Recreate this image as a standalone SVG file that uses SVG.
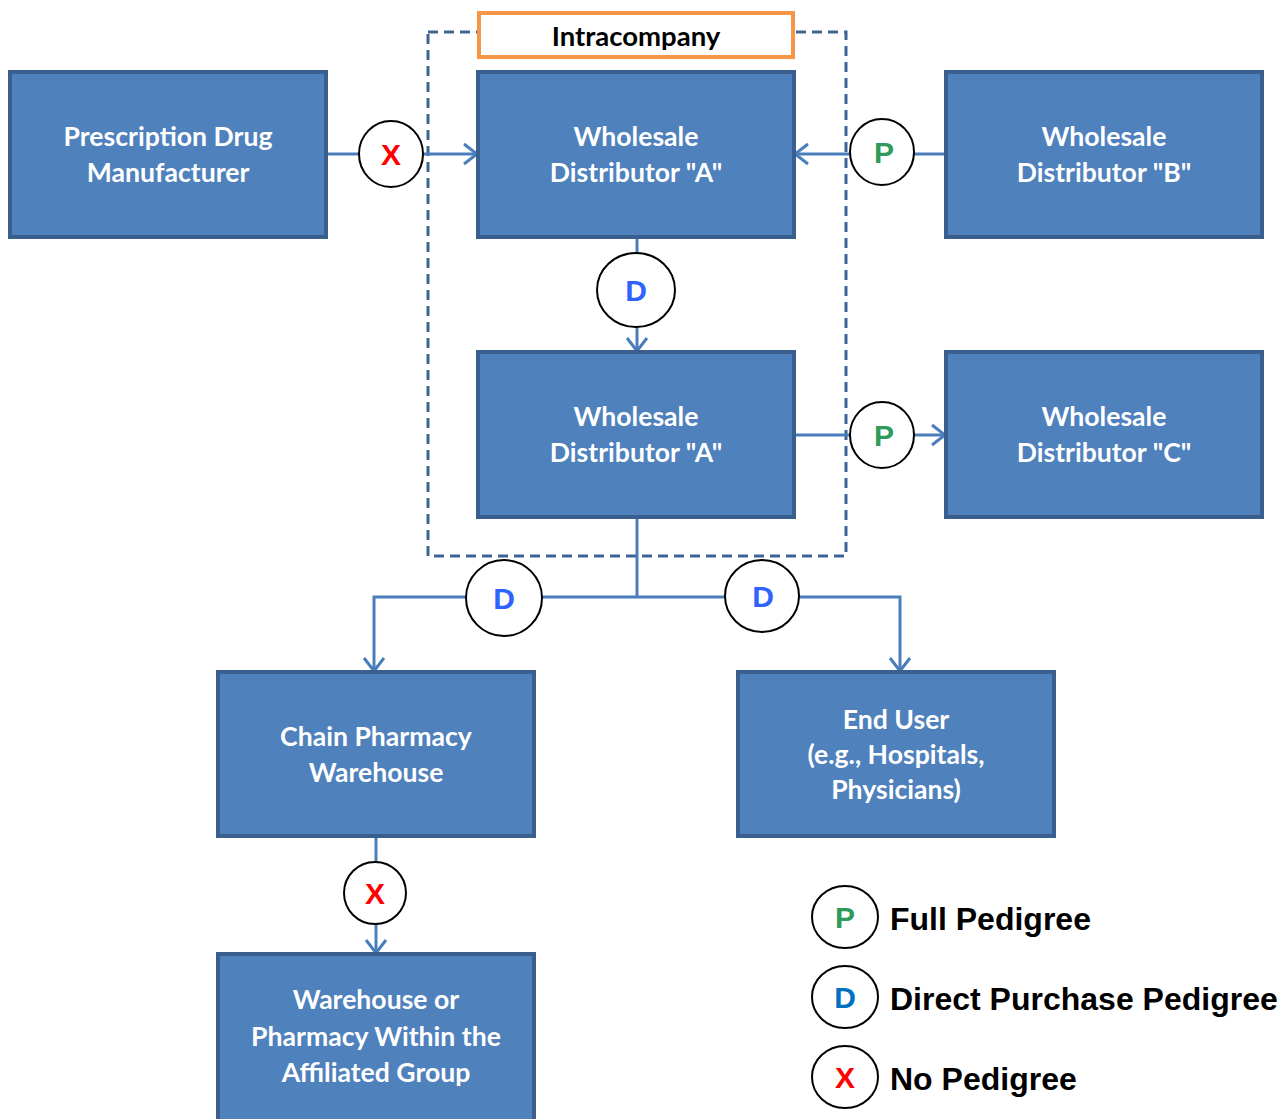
<svg xmlns="http://www.w3.org/2000/svg" width="1287" height="1119" viewBox="0 0 1287 1119">
<style>
.node rect{fill:#4F81BD;stroke:#3A5F8F;stroke-width:4}
.node text{fill:#fff;font-family:Lato,"Open Sans",sans-serif;font-weight:bold;font-size:26.6px;text-anchor:middle}
.conn{fill:none;stroke:#4A7EBB;stroke-width:3}
.badge ellipse{fill:#fff;stroke:#000;stroke-width:2}
.badge text{font-family:"Liberation Sans",Arial,sans-serif;font-weight:bold;font-size:30px;text-anchor:middle}
.p{fill:#2E9B5B}.d{fill:#2F62FF}.x{fill:#FF0000}
.leg{font-family:"Liberation Sans",Arial,sans-serif;font-weight:bold;font-size:32px;fill:#000}
</style>
<defs>
<marker id="arr" markerUnits="userSpaceOnUse" markerWidth="16" markerHeight="24" viewBox="0 0 16 24" refX="14" refY="12" orient="auto">
<path d="M1,2 L14,12 L1,22" fill="none" stroke="#4A7EBB" stroke-width="3"/>
</marker>
</defs>
<rect width="1287" height="1119" fill="#fff"/>
<g id="intracompany-boundary">
<rect x="428" y="32" width="418" height="524" fill="none" stroke="#3E6494" stroke-width="3" stroke-dasharray="10 6"/>
</g>
<g id="connectors">
<line class="conn" x1="326" y1="154" x2="477" y2="154" marker-end="url(#arr)"/>
<line class="conn" x1="946" y1="154" x2="795" y2="154" marker-end="url(#arr)"/>
<line class="conn" x1="637" y1="237" x2="637" y2="351" marker-end="url(#arr)"/>
<line class="conn" x1="794" y1="435" x2="945" y2="435" marker-end="url(#arr)"/>
<line class="conn" x1="637" y1="517" x2="637" y2="597" stroke-width="4"/>
<polyline class="conn" points="637,597 374,597 374,671" marker-end="url(#arr)"/>
<polyline class="conn" points="637,597 900,597 900,671" marker-end="url(#arr)"/>
<line class="conn" x1="376" y1="836" x2="376" y2="953" marker-end="url(#arr)"/>
</g>
<g id="intracompany-label">
<rect x="479" y="13" width="314" height="44" fill="#fff" stroke="#F79646" stroke-width="4"/>
<text x="636" y="46" font-family="Lato,'Open Sans',sans-serif" font-weight="bold" font-size="27.5" text-anchor="middle" fill="#000">Intracompany</text>
</g>
<g id="manufacturer" class="node"><rect x="10" y="72" width="316" height="165"/><text x="168" y="146">Prescription Drug</text><text x="168" y="182">Manufacturer</text></g>
<g id="wd-a-top" class="node"><rect x="478" y="72" width="316" height="165"/><text x="636" y="146">Wholesale</text><text x="636" y="182">Distributor "A"</text></g>
<g id="wd-b" class="node"><rect x="946" y="72" width="316" height="165"/><text x="1104" y="146">Wholesale</text><text x="1104" y="182">Distributor "B"</text></g>
<g id="wd-a-bottom" class="node"><rect x="478" y="352" width="316" height="165"/><text x="636" y="426">Wholesale</text><text x="636" y="462">Distributor "A"</text></g>
<g id="wd-c" class="node"><rect x="946" y="352" width="316" height="165"/><text x="1104" y="426">Wholesale</text><text x="1104" y="462">Distributor "C"</text></g>
<g id="chain-pharmacy" class="node"><rect x="218" y="672" width="316" height="164"/><text x="376" y="746">Chain Pharmacy</text><text x="376" y="782">Warehouse</text></g>
<g id="end-user" class="node"><rect x="738" y="672" width="316" height="164"/><text x="896" y="729">End User</text><text x="896" y="764">(e.g., Hospitals,</text><text x="896" y="799">Physicians)</text></g>
<g id="affiliated" class="node"><rect x="218" y="954" width="316" height="170"/><text x="376" y="1009">Warehouse or</text><text x="376" y="1046">Pharmacy Within the</text><text x="376" y="1082">Affiliated Group</text></g>
<g id="badge-x1" class="badge"><ellipse cx="391" cy="154" rx="32" ry="33"/><text class="x" x="391" y="165">X</text></g>
<g id="badge-p1" class="badge"><ellipse cx="882" cy="152" rx="32" ry="33"/><text class="p" x="884" y="163">P</text></g>
<g id="badge-d1" class="badge"><ellipse cx="636" cy="290" rx="39" ry="37" stroke="#555"/><text class="d" x="636" y="301">D</text></g>
<g id="badge-p2" class="badge"><ellipse cx="882" cy="435" rx="32" ry="33"/><text class="p" x="884" y="446">P</text></g>
<g id="badge-d2" class="badge"><ellipse cx="504" cy="598" rx="38" ry="38"/><text class="d" x="504" y="609">D</text></g>
<g id="badge-d3" class="badge"><ellipse cx="762" cy="596" rx="37" ry="36"/><text class="d" x="763" y="607">D</text></g>
<g id="badge-x2" class="badge"><ellipse cx="375" cy="893" rx="31" ry="31"/><text class="x" x="375" y="904">X</text></g>
<g id="legend">
<g class="badge"><ellipse cx="845" cy="917" rx="33" ry="31"/><text class="p" x="845" y="928">P</text></g>
<text class="leg" x="890" y="930">Full Pedigree</text>
<g class="badge"><ellipse cx="845" cy="997" rx="33" ry="31"/><text x="845" y="1008" fill="#0070C0">D</text></g>
<text class="leg" x="890" y="1010">Direct Purchase Pedigree</text>
<g class="badge"><ellipse cx="845" cy="1077" rx="33" ry="31"/><text class="x" x="845" y="1088">X</text></g>
<text class="leg" x="890" y="1090">No Pedigree</text>
</g>
</svg>
